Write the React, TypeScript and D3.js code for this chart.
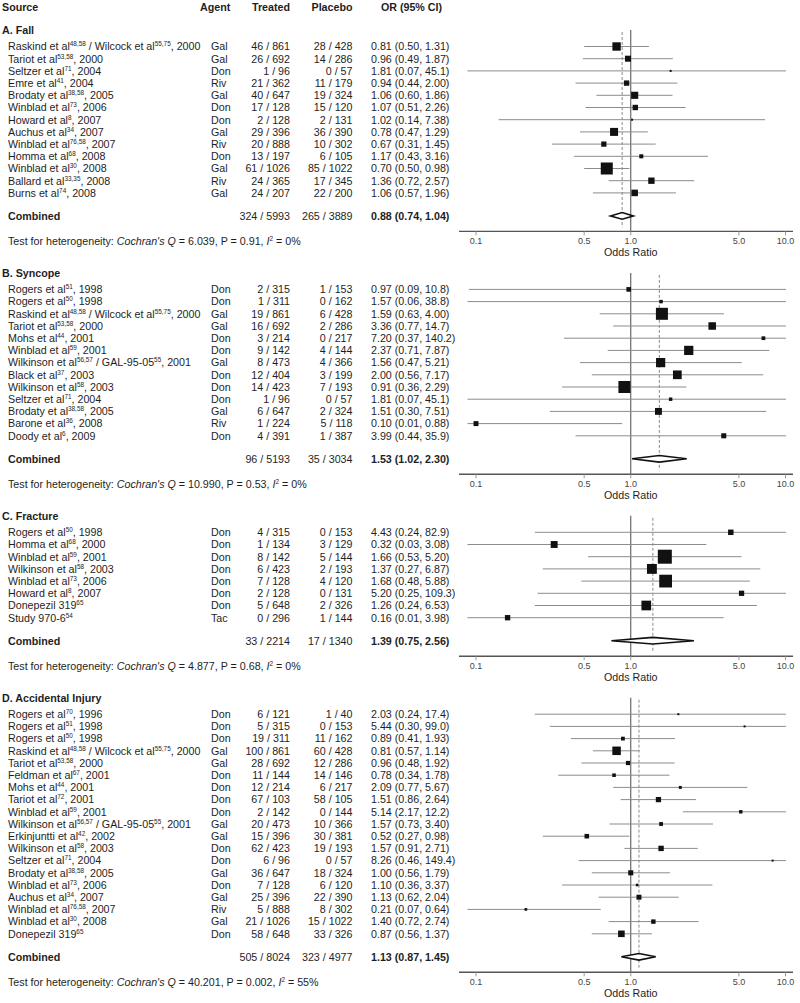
import React from "react";
import * as d3 from "d3";

type Row = [string, string, string, string, number, number, number];
type Comb = [string, string, number, number, number];

const sectionTitles = ["A. Fall", "B. Syncope", "C. Fracture", "D. Accidental Injury"];
const headerLabels = ["Source", "Agent", "Treated", "Placebo", "OR (95% CI)"];

const fallRows: Row[] = [
  ["Raskind et al^{48,58} / Wilcock et al^{55,75}, 2000", "Gal", "46 / 861", "28 / 428", 0.81, 0.5, 1.31],
  ["Tariot et al^{53,58}, 2000", "Gal", "26 / 692", "14 / 286", 0.96, 0.49, 1.87],
  ["Seltzer et al^{71}, 2004", "Don", "1 / 96", "0 / 57", 1.81, 0.07, 45.1],
  ["Emre et al^{41}, 2004", "Riv", "21 / 362", "11 / 179", 0.94, 0.44, 2.0],
  ["Brodaty et al^{38,58}, 2005", "Gal", "40 / 647", "19 / 324", 1.06, 0.6, 1.86],
  ["Winblad et al^{73}, 2006", "Don", "17 / 128", "15 / 120", 1.07, 0.51, 2.26],
  ["Howard et al^{8}, 2007", "Don", "2 / 128", "2 / 131", 1.02, 0.14, 7.38],
  ["Auchus et al^{34}, 2007", "Gal", "29 / 396", "36 / 390", 0.78, 0.47, 1.29],
  ["Winblad et al^{76,58}, 2007", "Riv", "20 / 888", "10 / 302", 0.67, 0.31, 1.45],
  ["Homma et al^{68}, 2008", "Don", "13 / 197", "6 / 105", 1.17, 0.43, 3.16],
  ["Winblad et al^{30}, 2008", "Gal", "61 / 1026", "85 / 1022", 0.7, 0.5, 0.98],
  ["Ballard et al^{33,35}, 2008", "Riv", "24 / 365", "17 / 345", 1.36, 0.72, 2.57],
  ["Burns et al^{74}, 2008", "Gal", "24 / 207", "22 / 200", 1.06, 0.57, 1.96],
];
const fallCombined: Comb = ["324 / 5993", "265 / 3889", 0.88, 0.74, 1.04];
const fallHetero = ["6.039", "0.91", "0%"];

const syncopeRows: Row[] = [
  ["Rogers et al^{51}, 1998", "Don", "2 / 315", "1 / 153", 0.97, 0.09, 10.8],
  ["Rogers et al^{50}, 1998", "Don", "1 / 311", "0 / 162", 1.57, 0.06, 38.8],
  ["Raskind et al^{48,58} / Wilcock et al^{55,75}, 2000", "Gal", "19 / 861", "6 / 428", 1.59, 0.63, 4.0],
  ["Tariot et al^{53,58}, 2000", "Gal", "16 / 692", "2 / 286", 3.36, 0.77, 14.7],
  ["Mohs et al^{44}, 2001", "Don", "3 / 214", "0 / 217", 7.2, 0.37, 140.2],
  ["Winblad et al^{59}, 2001", "Don", "9 / 142", "4 / 144", 2.37, 0.71, 7.87],
  ["Wilkinson et al^{56,57} / GAL-95-05^{55}, 2001", "Gal", "8 / 473", "4 / 366", 1.56, 0.47, 5.21],
  ["Black et al^{37}, 2003", "Don", "12 / 404", "3 / 199", 2.0, 0.56, 7.17],
  ["Wilkinson et al^{58}, 2003", "Don", "14 / 423", "7 / 193", 0.91, 0.36, 2.29],
  ["Seltzer et al^{71}, 2004", "Don", "1 / 96", "0 / 57", 1.81, 0.07, 45.1],
  ["Brodaty et al^{38,58}, 2005", "Gal", "6 / 647", "2 / 324", 1.51, 0.3, 7.51],
  ["Barone et al^{36}, 2008", "Riv", "1 / 224", "5 / 118", 0.1, 0.01, 0.88],
  ["Doody et al^{6}, 2009", "Don", "4 / 391", "1 / 387", 3.99, 0.44, 35.9],
];
const syncopeCombined: Comb = ["96 / 5193", "35 / 3034", 1.53, 1.02, 2.3];
const syncopeHetero = ["10.990", "0.53", "0%"];

const fractureRows: Row[] = [
  ["Rogers et al^{50}, 1998", "Don", "4 / 315", "0 / 153", 4.43, 0.24, 82.9],
  ["Homma et al^{68}, 2000", "Don", "1 / 134", "3 / 129", 0.32, 0.03, 3.08],
  ["Winblad et al^{59}, 2001", "Don", "8 / 142", "5 / 144", 1.66, 0.53, 5.2],
  ["Wilkinson et al^{58}, 2003", "Don", "6 / 423", "2 / 193", 1.37, 0.27, 6.87],
  ["Winblad et al^{73}, 2006", "Don", "7 / 128", "4 / 120", 1.68, 0.48, 5.88],
  ["Howard et al^{8}, 2007", "Don", "2 / 128", "0 / 131", 5.2, 0.25, 109.3],
  ["Donepezil 319^{65}", "Don", "5 / 648", "2 / 326", 1.26, 0.24, 6.53],
  ["Study 970-6^{54}", "Tac", "0 / 296", "1 / 144", 0.16, 0.01, 3.98],
];
const fractureCombined: Comb = ["33 / 2214", "17 / 1340", 1.39, 0.75, 2.56];
const fractureHetero = ["4.877", "0.68", "0%"];

const injuryRows: Row[] = [
  ["Rogers et al^{70}, 1996", "Don", "6 / 121", "1 / 40", 2.03, 0.24, 17.4],
  ["Rogers et al^{51}, 1998", "Don", "5 / 315", "0 / 153", 5.44, 0.3, 99.0],
  ["Rogers et al^{50}, 1998", "Don", "19 / 311", "11 / 162", 0.89, 0.41, 1.93],
  ["Raskind et al^{48,58} / Wilcock et al^{55,75}, 2000", "Gal", "100 / 861", "60 / 428", 0.81, 0.57, 1.14],
  ["Tariot et al^{53,58}, 2000", "Gal", "28 / 692", "12 / 286", 0.96, 0.48, 1.92],
  ["Feldman et al^{67}, 2001", "Don", "11 / 144", "14 / 146", 0.78, 0.34, 1.78],
  ["Mohs et al^{44}, 2001", "Don", "12 / 214", "6 / 217", 2.09, 0.77, 5.67],
  ["Tariot et al^{72}, 2001", "Don", "67 / 103", "58 / 105", 1.51, 0.86, 2.64],
  ["Winblad et al^{59}, 2001", "Don", "2 / 142", "0 / 144", 5.14, 2.17, 12.2],
  ["Wilkinson et al^{56,57} / GAL-95-05^{55}, 2001", "Gal", "20 / 473", "10 / 366", 1.57, 0.73, 3.4],
  ["Erkinjuntti et al^{42}, 2002", "Gal", "15 / 396", "30 / 381", 0.52, 0.27, 0.98],
  ["Wilkinson et al^{58}, 2003", "Don", "62 / 423", "19 / 193", 1.57, 0.91, 2.71],
  ["Seltzer et al^{71}, 2004", "Don", "6 / 96", "0 / 57", 8.26, 0.46, 149.4],
  ["Brodaty et al^{38,58}, 2005", "Gal", "36 / 647", "18 / 324", 1.0, 0.56, 1.79],
  ["Winblad et al^{73}, 2006", "Don", "7 / 128", "6 / 120", 1.1, 0.36, 3.37],
  ["Auchus et al^{34}, 2007", "Gal", "25 / 396", "22 / 390", 1.13, 0.62, 2.04],
  ["Winblad et al^{76,58}, 2007", "Riv", "5 / 888", "8 / 302", 0.21, 0.07, 0.64],
  ["Winblad et al^{30}, 2008", "Gal", "21 / 1026", "15 / 1022", 1.4, 0.72, 2.74],
  ["Donepezil 319^{65}", "Don", "58 / 648", "33 / 326", 0.87, 0.56, 1.37],
];
const injuryCombined: Comb = ["505 / 8024", "323 / 4977", 1.13, 0.87, 1.45];
const injuryHetero = ["40.201", "0.002", "55%"];

const tickValues = [0.1, 0.5, 1, 5, 10];
const tickLabels = ["0.1", "0.5", "1.0", "5.0", "10.0"];

const sections = [
  { title: sectionTitles[0], rows: fallRows, comb: fallCombined, het: fallHetero, maxSide: 12 },
  { title: sectionTitles[1], rows: syncopeRows, comb: syncopeCombined, het: syncopeHetero, maxSide: 12 },
  { title: sectionTitles[2], rows: fractureRows, comb: fractureCombined, het: fractureHetero, maxSide: 14 },
  { title: sectionTitles[3], rows: injuryRows, comb: injuryCombined, het: injuryHetero, maxSide: 8.5 },
];

const FONT = "'Liberation Sans', Arial, Helvetica, sans-serif";
const TXT = "#1e1e1e";
const FS = 10.7;

const fmt = (v: number) => (v < 10 ? v.toFixed(2) : v.toFixed(1));
const orText = (o: number, l: number, h: number) => `${fmt(o)} (${fmt(l)}, ${fmt(h)})`;

function SupText({ s, x, y, bold }: { s: string; x: number; y: number; bold?: boolean }) {
  const parts = s.split(/\^\{([^}]*)\}/);
  const out: React.ReactNode[] = [];
  let raised = false;
  parts.forEach((p, i) => {
    if (!p) return;
    if (i % 2 === 1) {
      out.push(
        <tspan key={i} dy={-4} fontSize={6.4}>
          {p}
        </tspan>
      );
      raised = true;
    } else {
      out.push(
        <tspan key={i} dy={raised ? 4 : 0}>
          {p}
        </tspan>
      );
      raised = false;
    }
  });
  return (
    <text x={x} y={y} fontSize={FS} fontWeight={bold ? "bold" : "normal"} fill={TXT} xmlSpace="preserve">
      {out}
    </text>
  );
}

export default function App() {
  const x = d3.scaleLog().domain([0.1, 10]).range([476, 785.5]);
  const clipL = 467.5;
  const clipR = 786;
  const axisL = 459;
  const axisR = 793;

  const rowGap = 12.2;
  const base = 3.8; // center -> baseline offset
  const els: React.ReactNode[] = [];
  let labelY = 30;

  // header
  const hy = 7.5 + base;
  els.push(
    <g key="hdr" fontSize={FS} fontWeight="bold" fill={TXT}>
      <text x={2} y={hy}>{headerLabels[0]}</text>
      <text x={200} y={hy}>{headerLabels[1]}</text>
      <text x={290} y={hy} textAnchor="end">{headerLabels[2]}</text>
      <text x={352.5} y={hy} textAnchor="end">{headerLabels[3]}</text>
      <text x={411.5} y={hy} textAnchor="middle">{headerLabels[4]}</text>
    </g>
  );

  sections.forEach((sec, si) => {
    const firstRow = labelY + 16.5;
    const rowY = (i: number) => firstRow + i * rowGap;
    const lastY = rowY(sec.rows.length - 1);
    const combY = lastY + 23;
    const axisY = combY + 15.5;
    const tickY = axisY + 9.5;
    const titleY = axisY + 21;

    const weights = sec.rows.map((r) => {
      const se = (Math.log(r[6]) - Math.log(r[5])) / (2 * 1.96);
      return 1 / (se * se);
    });
    const maxW = d3.max(weights) as number;

    const g: React.ReactNode[] = [];
    g.push(
      <text key="t" x={2} y={labelY + base} fontSize={FS} fontWeight="bold" fill={TXT}>
        {sec.title}
      </text>
    );

    // reference lines
    const [, , cOr, cLo, cHi] = sec.comb;
    g.push(
      <line key="ref1" x1={x(1)} x2={x(1)} y1={labelY} y2={axisY} stroke="#5a5a5a" strokeWidth={1.1} />
    );
    g.push(
      <line
        key="refc"
        x1={x(cOr)}
        x2={x(cOr)}
        y1={labelY + 2}
        y2={axisY - 4}
        stroke="#8a8a8a"
        strokeWidth={1}
        strokeDasharray="3,2"
      />
    );

    sec.rows.forEach((r, i) => {
      const cy = rowY(i);
      const ty = cy + base;
      g.push(<SupText key={"s" + i} s={r[0]} x={8} y={ty} />);
      g.push(
        <text key={"a" + i} x={211} y={ty} fontSize={FS} fill={TXT}>
          {r[1]}
        </text>
      );
      g.push(
        <text key={"tr" + i} x={290} y={ty} fontSize={FS} fill={TXT} textAnchor="end">
          {r[2]}
        </text>
      );
      g.push(
        <text key={"pl" + i} x={352.5} y={ty} fontSize={FS} fill={TXT} textAnchor="end">
          {r[3]}
        </text>
      );
      g.push(
        <text key={"or" + i} x={371} y={ty} fontSize={FS} fill={TXT}>
          {orText(r[4], r[5], r[6])}
        </text>
      );
      const xl = Math.max(clipL, x(r[5]));
      const xr = Math.min(clipR, x(r[6]));
      g.push(<line key={"ci" + i} x1={xl} x2={xr} y1={cy} y2={cy} stroke="#8c8c8c" strokeWidth={1} />);
      const side = Math.max(2, sec.maxSide * Math.sqrt(weights[i] / maxW));
      g.push(
        <rect key={"sq" + i} x={x(r[4]) - side / 2} y={cy - side / 2} width={side} height={side} fill="#111" />
      );
    });

    // combined
    const cty = combY + base;
    g.push(
      <text key="cb" x={8} y={cty} fontSize={FS} fontWeight="bold" fill={TXT}>
        Combined
      </text>
    );
    g.push(
      <text key="ctr" x={290} y={cty} fontSize={FS} fill={TXT} textAnchor="end">
        {sec.comb[0]}
      </text>
    );
    g.push(
      <text key="cpl" x={352.5} y={cty} fontSize={FS} fill={TXT} textAnchor="end">
        {sec.comb[1]}
      </text>
    );
    g.push(
      <text key="cor" x={371} y={cty} fontSize={FS} fontWeight="bold" fill={TXT}>
        {orText(cOr, cLo, cHi)}
      </text>
    );
    const dh = 3.3;
    const dpath = `M${x(cLo)},${combY} L${x(cOr)},${combY - dh} L${x(cHi)},${combY} L${x(cOr)},${combY + dh} Z`;
    g.push(<path key="dia" d={dpath} fill="#fff" stroke="#111" strokeWidth={1.6} strokeLinejoin="miter" />);

    // heterogeneity
    g.push(
      <text key="het" x={8} y={tickY + base} fontSize={FS} fill={TXT} xmlSpace="preserve">
        <tspan>Test for heterogeneity: </tspan>
        <tspan fontStyle="italic">Cochran's Q</tspan>
        <tspan>{` = ${sec.het[0]}, P = ${sec.het[1]}, `}</tspan>
        <tspan fontStyle="italic">I</tspan>
        <tspan dy={-4} fontSize={6.4}>2</tspan>
        <tspan dy={4}>{` = ${sec.het[2]}`}</tspan>
      </text>
    );

    // axis
    g.push(<line key="ax" x1={axisL} x2={axisR} y1={axisY} y2={axisY} stroke="#555" strokeWidth={1.4} />);
    tickValues.forEach((t, k) => {
      g.push(
        <line key={"tk" + k} x1={x(t)} x2={x(t)} y1={axisY} y2={axisY + 4} stroke="#999" strokeWidth={1} />
      );
      g.push(
        <text key={"tl" + k} x={x(t)} y={tickY + 3.3} fontSize={9} fill="#444" textAnchor="middle">
          {tickLabels[k]}
        </text>
      );
    });
    g.push(
      <text key="axt" x={x(1)} y={titleY + base} fontSize={FS} fill={TXT} textAnchor="middle">
        Odds Ratio
      </text>
    );

    els.push(<g key={"sec" + si}>{g}</g>);
    labelY = titleY + 20.5;
  });

  return (
    <svg
      width={800}
      height={1003}
      style={{ position: "absolute", left: 0, top: 0, background: "#fff" }}
      fontFamily={FONT}
    >
      <rect x={0} y={0} width={800} height={1003} fill="#fff" />
      {els}
    </svg>
  );
}
